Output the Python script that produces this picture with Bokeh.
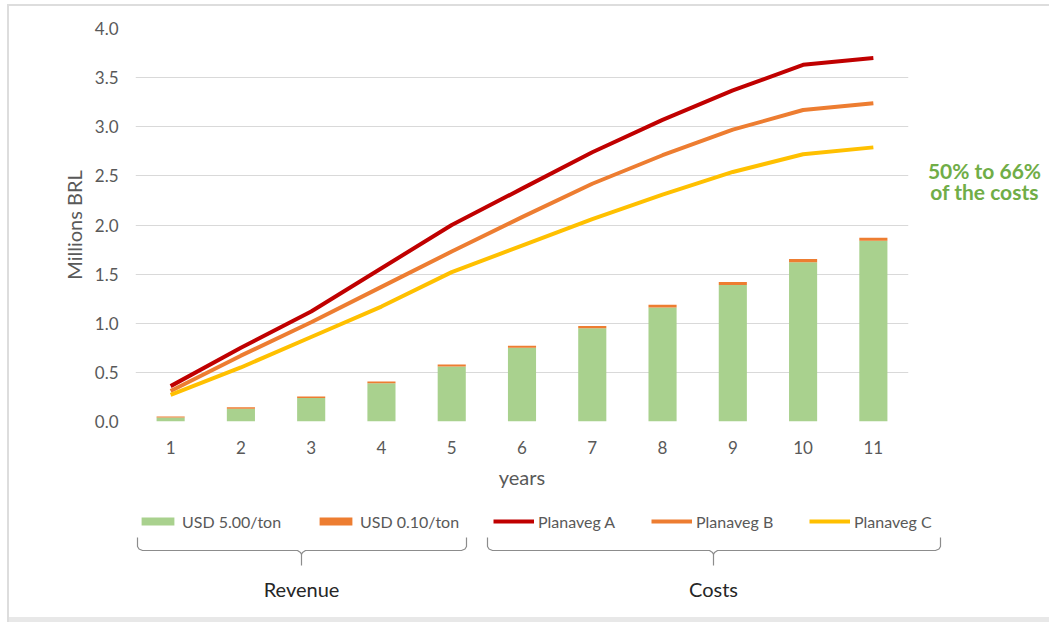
from bokeh.plotting import figure
from bokeh.layouts import column, row
from bokeh.models import (ColumnDataSource, Range1d, Legend, LegendItem, Label,
                          FixedTicker, PrintfTickFormatter)
from bokeh.embed import file_html
from bokeh.resources import INLINE

years = [1, 2, 3, 4, 5, 6, 7, 8, 9, 10, 11]
rev_usd_500 = [0.04, 0.13, 0.24, 0.39, 0.56, 0.75, 0.95, 1.16, 1.39, 1.62, 1.84]
rev_usd_010 = [0.012, 0.014, 0.015, 0.018, 0.02, 0.02, 0.022, 0.028, 0.03, 0.035, 0.03]
planaveg_a = [0.36, 0.75, 1.12, 1.56, 2.00, 2.37, 2.74, 3.07, 3.37, 3.63, 3.70]
planaveg_b = [0.31, 0.67, 1.01, 1.37, 1.73, 2.08, 2.42, 2.71, 2.97, 3.17, 3.24]
planaveg_c = [0.27, 0.55, 0.86, 1.17, 1.52, 1.79, 2.06, 2.31, 2.54, 2.72, 2.79]
y_ticks = [0.0, 0.5, 1.0, 1.5, 2.0, 2.5, 3.0, 3.5, 4.0]

legend_labels = ["USD 5.00/ton", "USD 0.10/ton", "Planaveg A", "Planaveg B", "Planaveg C"]
colors = ["#A9D18E", "#ED7D31", "#C00000", "#ED7D31", "#FFC000"]
group_labels = ["Revenue", "Costs"]
note_lines = ["50% to 66%", "of the costs"]

FONT = "Lato"
GRAY = "#595959"

W, H = 1049, 622
MAIN_W, MAIN_H = 920, 500
FL, FR, FT, FB = 135, 908, 28, 421  # plot-area frame in page pixels

# ---------------- main chart ----------------
p = figure(width=MAIN_W, height=MAIN_H, output_backend="svg", toolbar_location=None,
           x_range=Range1d(0.5, 11.5), y_range=Range1d(0.0, 4.0),
           min_border_left=FL, min_border_right=MAIN_W - FR,
           min_border_top=FT, min_border_bottom=MAIN_H - FB)
p.outline_line_color = None
p.background_fill_alpha = 0
p.border_fill_alpha = 0

src = ColumnDataSource(dict(years=years, usd500=rev_usd_500, usd010=rev_usd_010,
                            a=planaveg_a, b=planaveg_b, c=planaveg_c))

p.vbar_stack(["usd500", "usd010"], x="years", width=0.4, source=src,
             color=colors[:2], line_color=None)
p.line("years", "a", source=src, line_color=colors[2], line_width=4)
p.line("years", "b", source=src, line_color=colors[3], line_width=4)
p.line("years", "c", source=src, line_color=colors[4], line_width=4)

p.xaxis.ticker = FixedTicker(ticks=years)
p.yaxis.ticker = FixedTicker(ticks=y_ticks)
p.yaxis.formatter = PrintfTickFormatter(format="%.1f")
for ax in (p.xaxis[0], p.yaxis[0]):
    ax.axis_line_color = None
    ax.major_tick_line_color = None
    ax.minor_tick_line_color = None
    ax.major_tick_out = 0
    ax.major_tick_in = 0
    ax.minor_tick_out = 0
    ax.minor_tick_in = 0
    ax.major_label_text_font = FONT
    ax.major_label_text_font_size = "17px"
    ax.major_label_text_color = GRAY
    ax.axis_label_text_font = FONT
    ax.axis_label_text_font_size = "20px"
    ax.axis_label_text_font_style = "normal"
    ax.axis_label_text_color = GRAY
p.xaxis.major_label_standoff = 19
p.yaxis.major_label_standoff = 17
p.xaxis.axis_label = "years"
p.yaxis.axis_label = "Millions BRL"
p.xaxis.axis_label_standoff = 8
p.yaxis.axis_label_standoff = 6
p.xgrid.grid_line_color = None
p.ygrid.grid_line_color = "#D9D9D9"
p.ygrid.grid_line_width = 1.2

# ---------------- right strip (note) ----------------
RW = W - MAIN_W
r = figure(width=RW, height=MAIN_H, output_backend="svg", toolbar_location=None,
           x_range=Range1d(MAIN_W, W), y_range=Range1d(MAIN_H, 0),
           min_border=0, x_axis_type=None, y_axis_type=None)
r.outline_line_color = None
r.background_fill_alpha = 0
r.border_fill_alpha = 0
r.grid.visible = False
for txt, cy in zip(note_lines, (181, 208)):
    r.add_layout(Label(x=984, y=cy, text=txt, text_align="center",
                       text_baseline="middle", text_font=FONT,
                       text_font_size="21px", text_font_style="bold",
                       text_color="#70AD47"))

# ---------------- bottom strip (legend + braces) ----------------
BH = H - MAIN_H
b = figure(width=W, height=BH, output_backend="svg", toolbar_location=None,
           x_range=Range1d(0, W), y_range=Range1d(H, MAIN_H),
           min_border=0, x_axis_type=None, y_axis_type=None)
b.outline_line_color = None
b.background_fill_alpha = 0
b.border_fill_alpha = 0
b.grid.visible = False

# legend proxies: out-of-view so only their legend swatches show
proxy = ColumnDataSource(dict(x=[-200, -190], y=[560, 560]))
dummy = [
    b.rect("x", "y", width=1, height=1, source=proxy, fill_color=colors[0], line_color=None),
    b.rect("x", "y", width=1, height=1, source=proxy, fill_color=colors[1], line_color=None),
    b.line("x", "y", source=proxy, line_color=colors[2], line_width=4),
    b.line("x", "y", source=proxy, line_color=colors[3], line_width=4),
    b.line("x", "y", source=proxy, line_color=colors[4], line_width=4),
]
leg_x = [137, 315, 493, 651, 809]
LEG_CY = 521
for label, rend, lx in zip(legend_labels, dummy, leg_x):
    lg = Legend(items=[LegendItem(label=label, renderers=[rend])],
                location=(lx, H - LEG_CY - 10), orientation="horizontal",
                glyph_width=41, glyph_height=10, label_standoff=4,
                padding=0, margin=0, spacing=0,
                border_line_color=None, background_fill_alpha=0,
                label_text_font=FONT, label_text_font_size="16px",
                label_text_color=GRAY, label_height=20)
    b.add_layout(lg)


def brace_path(L, R, C, top=537, mid=550, bot=565):
    pts = [(L, top), (L, mid - 4), (L + 1.5, mid - 1.5), (L + 5, mid),
           (C - 4, mid), (C - 1, mid + 2), (C, mid + 4), (C, bot),
           (C, mid + 4), (C + 1, mid + 2), (C + 4, mid),
           (R - 5, mid), (R - 1.5, mid - 1.5), (R, mid - 4), (R, top)]
    return [a for a, _ in pts], [c for _, c in pts]


for (L, R, C), txt in zip([(137, 466, 301), (487, 940, 713)], group_labels):
    xs, ys = brace_path(L, R, C)
    b.line(xs, ys, line_color="#8C8C8C", line_width=1.2)
    b.add_layout(Label(x=C, y=588, text=txt, text_align="center",
                       text_baseline="middle", text_font=FONT,
                       text_font_size="20px", text_color="#262626"))

layout = column(row(p, r), b,
                styles={"background-color": "white",
                        "box-shadow": "inset 7px 4px 0 0 white, inset 9px 6px 0 0 #DDDDDD, "
                                      "inset 0 -5px 0 0 #E8E8E8"})

open("out.html", "w").write(file_html(layout, INLINE))
